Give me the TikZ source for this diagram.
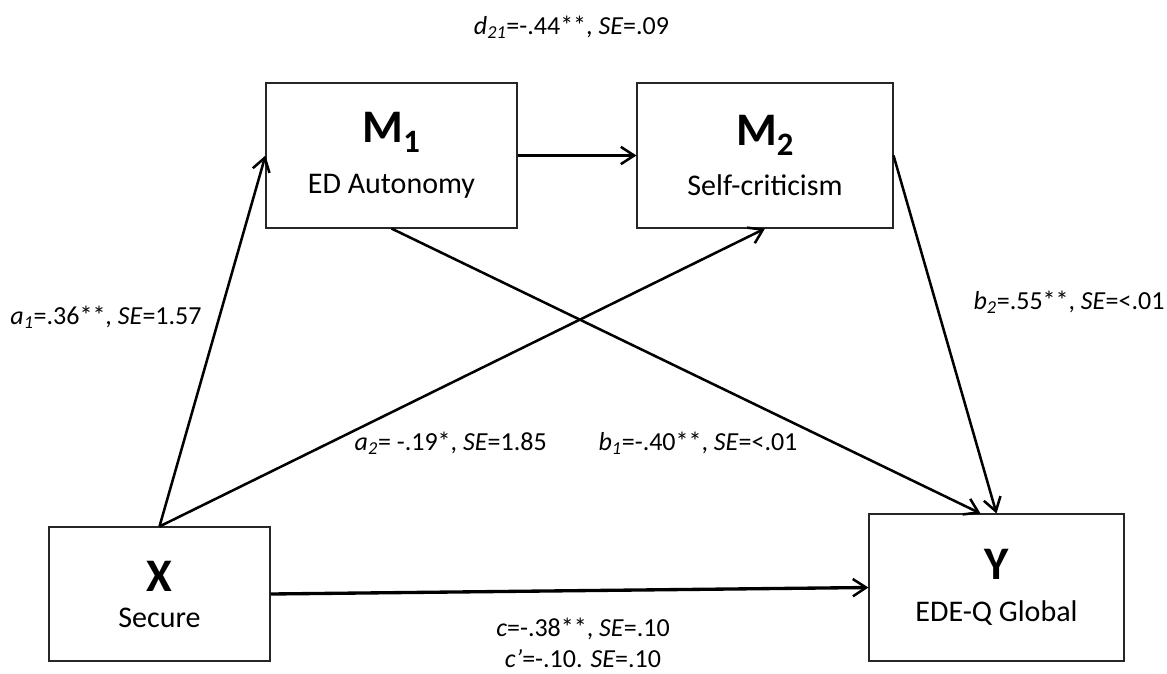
\documentclass[tikz,border=0pt]{standalone}
\usepackage{fontspec}
\setmainfont{Carlito}
\usetikzlibrary{arrows.meta}
\tikzset{
  box/.style={draw=black!85, line width=0.8pt, rectangle, inner sep=0pt, align=center,
    font=\fontsize{22.5}{26}\selectfont},
  path/.style={line width=1.9pt, -{Straight Barb[length=10pt,width=13pt,line width=1.9pt]}},
  lbl/.style={font=\fontsize{19.5}{23}\selectfont, inner sep=0pt},
}
\newcommand{\hd}[2]{{\fontsize{35}{35}\selectfont\bfseries #1\textsubscript{#2}}}
\begin{document}
\begin{tikzpicture}[x=0.75pt,y=-0.75pt]
\useasboundingbox (0,0) rectangle (1167,674);
\node[box, minimum width=188.25pt, minimum height=108.75pt] (M1) at (391.5,155.5)
  {\hd{M}{1}\\[12pt] ED Autonomy};
\node[box, minimum width=192pt, minimum height=108.75pt] (M2) at (765,155.5)
  {\hd{M}{2}\\[12pt] Self-criticism};
\node[box, minimum width=165.75pt, minimum height=100.5pt] (X) at (159.5,594)
  {{\fontsize{35}{35}\selectfont\bfseries X}\\[1pt] Secure};
\node[box, minimum width=191.25pt, minimum height=110.25pt] (Y) at (996.5,587.5)
  {{\fontsize{35}{35}\selectfont\bfseries Y}\\[5pt] EDE-Q Global};

\draw[path] (X.north) -- (M1.west);
\draw[path] (X.north) -- (M2.south);
\draw[path] (M1.east) -- (M2.west);
\draw[path] (M1.south) -- ([xshift=-12pt]Y.north);
\draw[path] (M2.east) -- (Y.north);
\draw[path, line width=2.5pt] (X.east) -- (Y.west);

\node[lbl] (d21) at (571.5,27) {\textit{d\textsubscript{21}}=-.44**, \textit{SE}=.09};
\node[lbl] (a1) at (106,317) {\textit{a\textsubscript{1}}=.36**, \textit{SE}=1.57};
\node[lbl, anchor=east] (a2) at (547,443) {\textit{a\textsubscript{2}}= -.19*, \textit{SE}=1.85};
\node[lbl] (b1) at (698,443) {\textit{b\textsubscript{1}}=-.40**, \textit{SE}=<.01};
\node[lbl] (b2) at (1069,302) {\textit{b\textsubscript{2}}=.55**, \textit{SE}=<.01};
\node[lbl] (c) at (583,629) {\textit{c}=-.38**, \textit{SE}=.10};
\node[lbl] (cp) at (583,659) {\textit{c’}=-.10. \textit{SE}=.10};
\end{tikzpicture}
\end{document}
